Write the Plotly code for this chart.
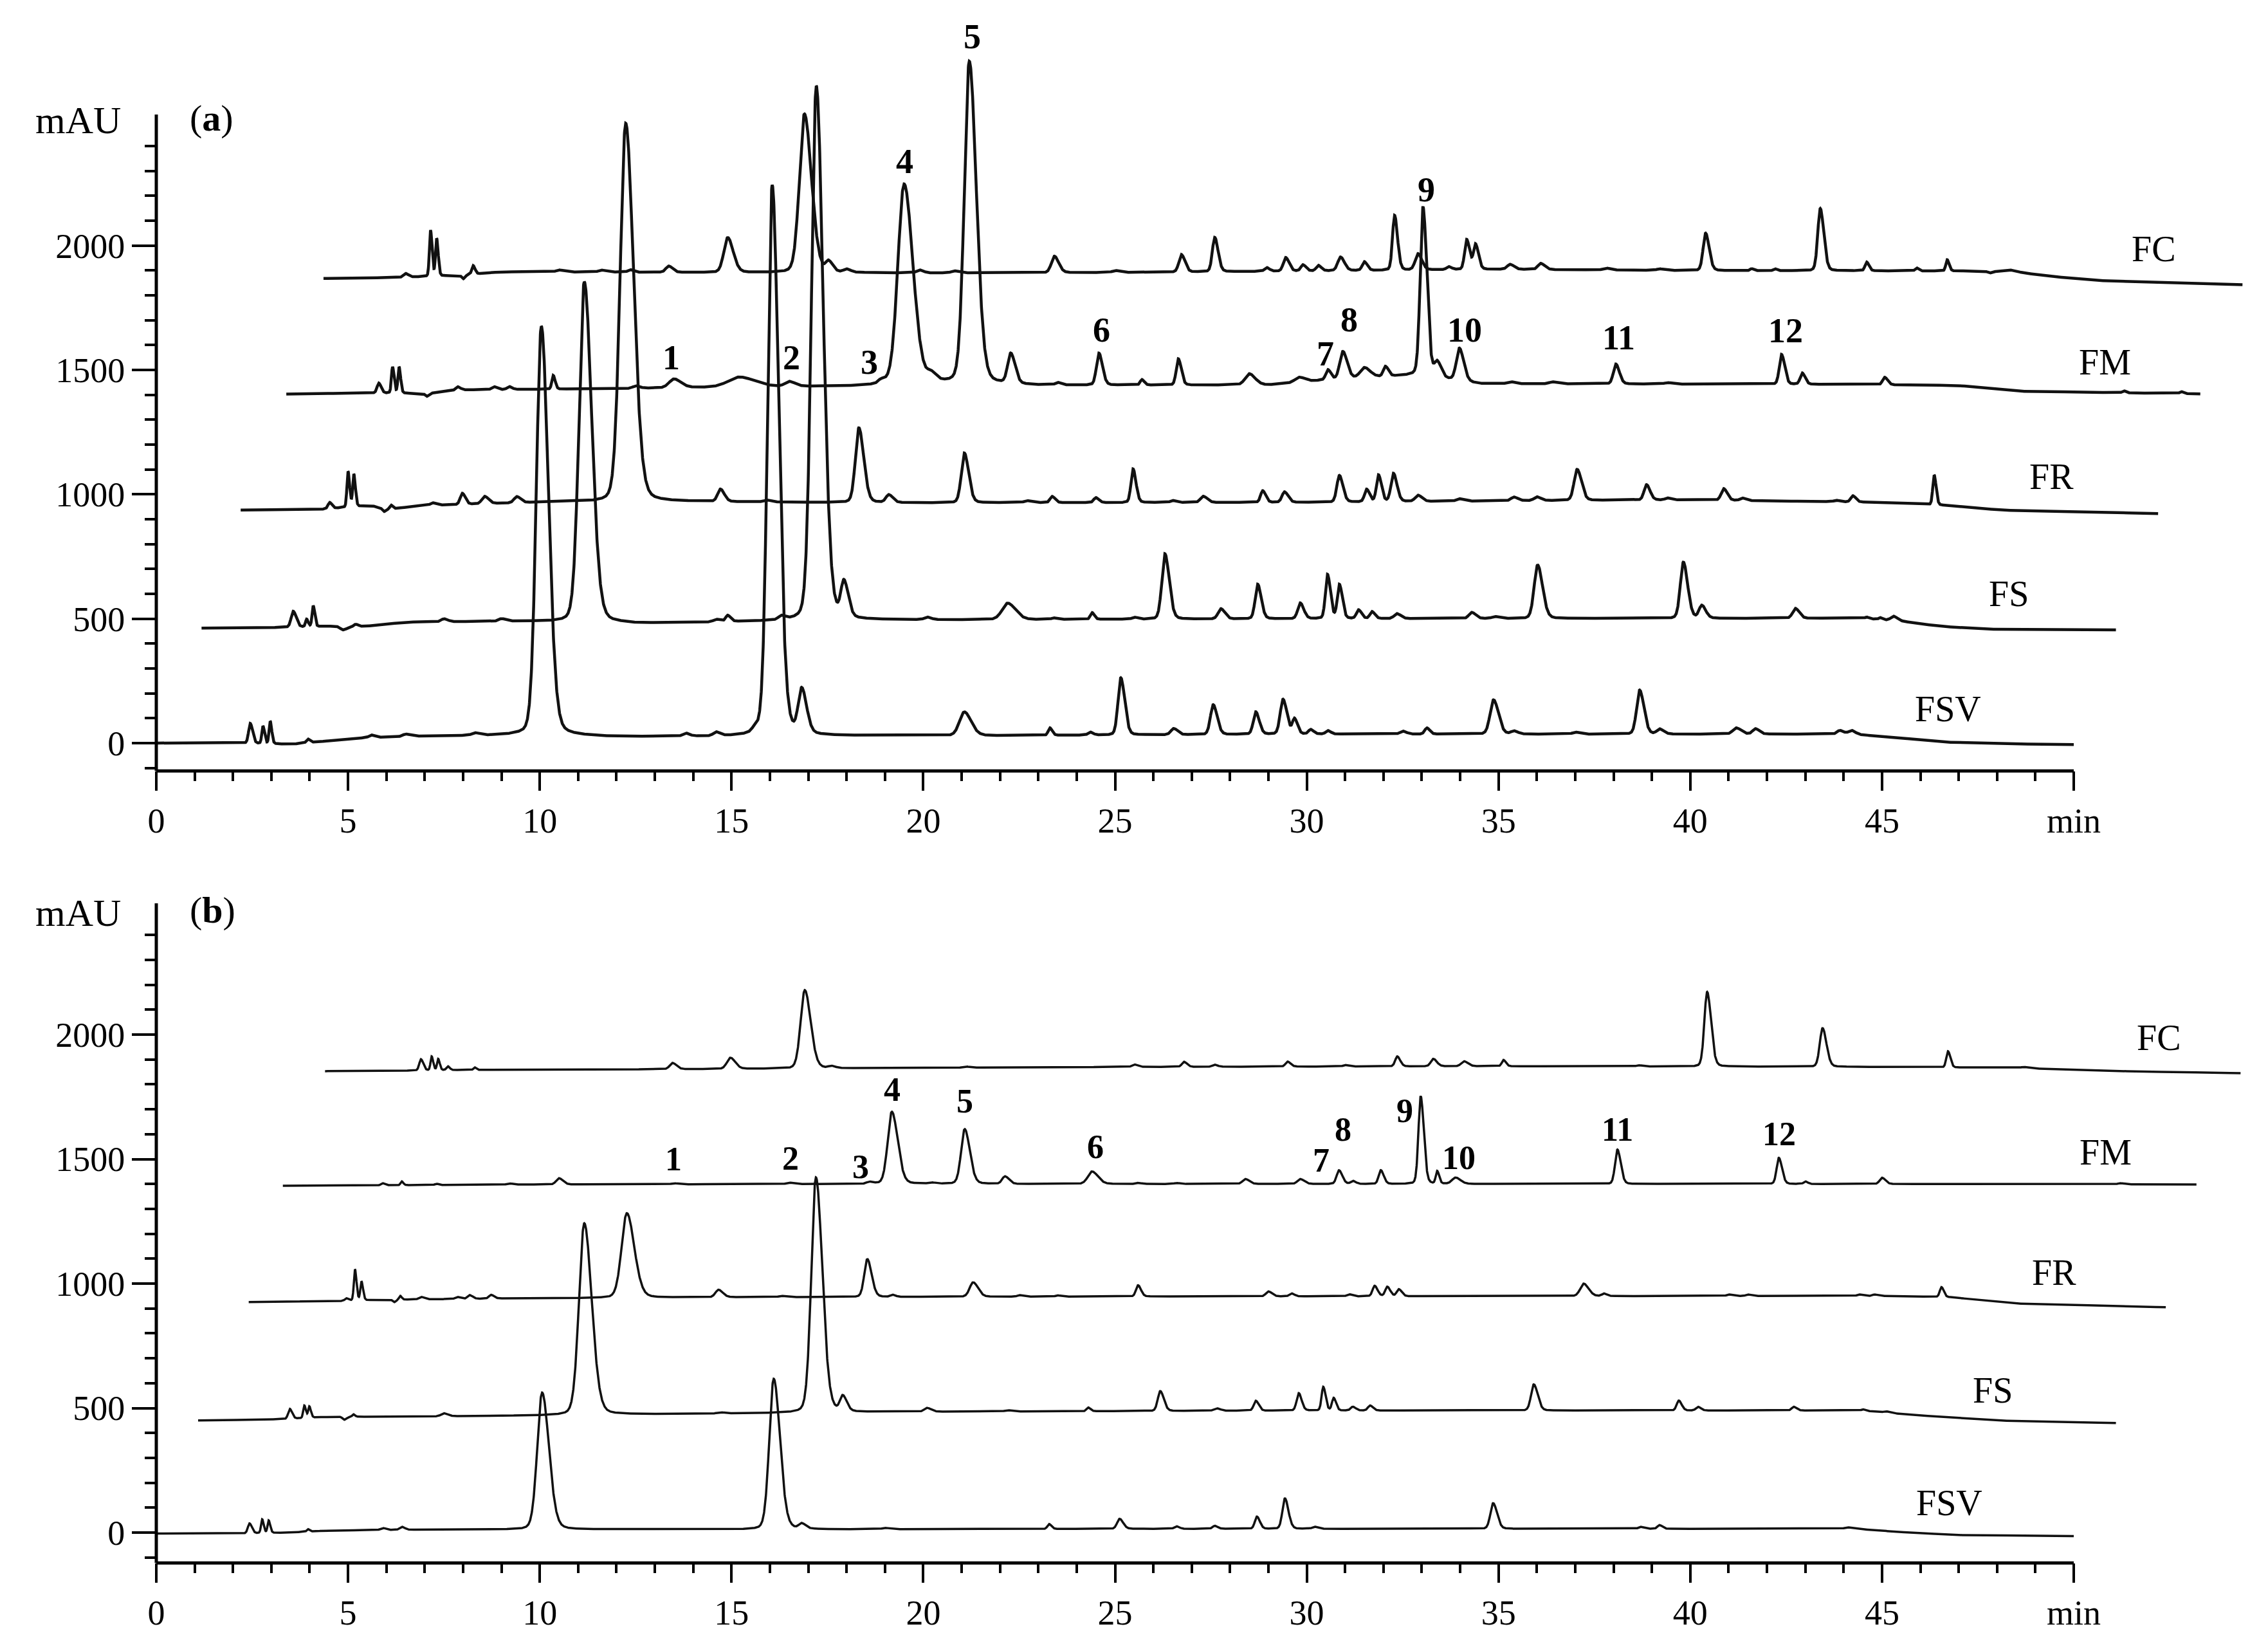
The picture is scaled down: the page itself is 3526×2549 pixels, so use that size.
import numpy as np
import plotly.graph_objects as go

# ---------------- DATA ----------------
# Each chromatogram: baseline knots (min, mAU) and peaks (retention min, height above baseline mAU, FWHM min)
# x positions are as displayed (traces are offset in the original figure)

# ---- Panel (a) ----
FSV_A_BASE = [(0, 0), (2.2, 0), (3.5, -5), (4.2, 5), (5.5, 22), (7, 28), (9.5, 32), (12, 25), (16, 28),
              (22, 30), (30, 36), (44.2, 36), (45.2, 25), (46.5, 5), (48, -3), (50, -6)]
FSV_A_PEAKS = [(2.45, 80, 0.12), (2.78, 70, 0.08), (2.97, 90, 0.08), (3.95, 15, 0.1), (5.6, 10, 0.15),
               (6.5, 10, 0.2), (8.3, 10, 0.2), (10.04, 1645, 0.36), (13.8, 12, 0.2), (14.6, 15, 0.2),
               (15.6, 15, 0.2), (16.06, 2215, 0.33), (16.83, 175, 0.25), (21.07, 95, 0.35), (23.3, 30, 0.12),
               (24.35, 12, 0.15), (25.15, 230, 0.2), (26.53, 25, 0.2), (27.56, 120, 0.2), (28.67, 90, 0.18),
               (29.38, 140, 0.2), (29.68, 60, 0.15), (30.1, 18, 0.15), (30.55, 14, 0.15), (32.5, 12, 0.2),
               (33.13, 25, 0.15), (34.87, 138, 0.25), (35.4, 12, 0.2), (37.0, 8, 0.2), (38.68, 177, 0.22),
               (39.2, 20, 0.2), (41.2, 25, 0.25), (41.7, 22, 0.2), (43.9, 15, 0.2), (44.2, 15, 0.2)]

FS_A_BASE = [(1.18, 462), (3.3, 465), (4.6, 470), (5.5, 470), (6.5, 486), (9.5, 490), (12.5, 480), (16, 490),
             (20, 495), (30, 500), (44.5, 502), (45.5, 490), (46.5, 470), (47.6, 458), (51.1, 455)]
FS_A_PEAKS = [(3.57, 64, 0.15), (3.92, 30, 0.08), (4.09, 84, 0.08), (4.87, -15, 0.2), (5.2, 8, 0.1),
              (7.5, 12, 0.2), (9.0, 10, 0.2), (11.16, 1370, 0.38), (14.6, 10, 0.2), (14.9, 25, 0.15),
              (16.3, 15, 0.2), (17.21, 2150, 0.35), (17.93, 140, 0.22), (20.1, 10, 0.2), (22.2, 66, 0.4),
              (23.4, 6, 0.15), (24.4, 27, 0.12), (25.5, 8, 0.15), (26.3, 263, 0.22), (27.76, 41, 0.2),
              (28.72, 139, 0.18), (29.83, 63, 0.18), (30.54, 177, 0.15), (30.85, 136, 0.15), (31.35, 35, 0.15),
              (31.7, 28, 0.15), (32.35, 20, 0.2), (34.3, 25, 0.2), (34.9, 8, 0.2), (36.02, 215, 0.25),
              (39.82, 226, 0.22), (40.3, 51, 0.2), (42.74, 40, 0.2), (44.6, 6, 0.1), (44.95, 8, 0.1),
              (45.3, 18, 0.2)]

FR_A_BASE = [(2.2, 937), (4.3, 940), (5.6, 955), (6.0, 940), (7, 955), (10, 968), (14, 970), (20, 966),
             (30, 968), (36, 975), (40, 978), (45, 968), (46.7, 955), (48.2, 936), (52.2, 923)]
FR_A_PEAKS = [(4.52, 25, 0.12), (5.0, 143, 0.08), (5.15, 130, 0.08), (5.93, -12, 0.1), (6.12, 15, 0.08),
              (7.2, 10, 0.15), (7.98, 45, 0.15), (8.56, 30, 0.2), (9.4, 25, 0.2), (12.24, 1523, 0.4),
              (14.71, 50, 0.2), (15.9, 8, 0.2), (18.32, 300, 0.25), (19.1, 31, 0.2), (21.07, 200, 0.22),
              (22.7, 8, 0.2), (23.36, 25, 0.15), (24.5, 20, 0.15), (25.47, 135, 0.15), (26.5, 8, 0.15),
              (27.3, 25, 0.2), (28.85, 47, 0.15), (29.42, 42, 0.18), (30.85, 107, 0.18), (31.56, 50, 0.15),
              (31.87, 107, 0.15), (32.26, 113, 0.18), (32.9, 25, 0.2), (33.97, 10, 0.2), (35.4, 15, 0.2),
              (36.0, 15, 0.2), (37.05, 125, 0.22), (38.86, 62, 0.18), (39.4, 8, 0.15), (40.87, 47, 0.18),
              (41.35, 10, 0.15), (43.8, 6, 0.15), (44.24, 25, 0.15), (46.36, 120, 0.1)]

FM_A_BASE = [(3.39, 1403), (5.5, 1408), (7, 1405), (8, 1420), (12, 1425), (14, 1430), (18, 1435),
             (20.5, 1445), (23, 1438), (29, 1440), (30.5, 1460), (32.8, 1480), (33.3, 1470), (34.5, 1445),
             (44, 1442), (47, 1438), (48.5, 1415), (53.3, 1404)]
FM_A_PEAKS = [(5.8, 40, 0.12), (6.16, 105, 0.08), (6.33, 105, 0.08), (7.05, -12, 0.1), (7.85, 15, 0.15),
              (8.8, 12, 0.15), (9.2, 12, 0.15), (10.35, 55, 0.1), (12.5, 10, 0.2), (13.5, 35, 0.35),
              (15.2, 40, 0.8), (16.5, 20, 0.3), (18.9, 15, 0.2), (19.5, 805, 0.45), (20.2, 30, 0.25),
              (21.2, 1295, 0.36), (22.28, 120, 0.22), (23.5, 10, 0.15), (24.58, 128, 0.18), (25.7, 22, 0.12),
              (26.65, 105, 0.15), (28.5, 45, 0.3), (29.8, 20, 0.3), (30.55, 40, 0.15), (30.94, 110, 0.22),
              (31.5, 40, 0.3), (32.05, 40, 0.15), (33.03, 680, 0.2), (33.4, 60, 0.2), (33.98, 130, 0.22),
              (35.3, 8, 0.2), (36.4, 8, 0.2), (38.06, 80, 0.18), (39.4, 6, 0.2), (42.38, 120, 0.16),
              (42.92, 45, 0.15), (45.07, 30, 0.15), (51.3, 8, 0.1), (52.8, 8, 0.1)]

FC_A_BASE = [(4.36, 1868), (6.3, 1872), (7.9, 1880), (9, 1895), (15, 1892), (20, 1890), (25, 1892),
             (30, 1898), (35, 1905), (40, 1900), (47.5, 1898), (48.9, 1885), (50.5, 1860), (54.4, 1843)]
FC_A_PEAKS = [(6.5, 15, 0.15), (7.15, 185, 0.08), (7.31, 150, 0.08), (8.0, -15, 0.1), (8.26, 35, 0.1),
              (10.5, 8, 0.2), (11.6, 8, 0.2), (12.35, 10, 0.15), (13.36, 25, 0.2), (14.9, 140, 0.28),
              (16.9, 638, 0.36), (17.53, 40, 0.2), (18.0, 12, 0.2), (19.9, 12, 0.2), (20.8, 8, 0.2),
              (23.42, 66, 0.22), (25.0, 8, 0.2), (26.73, 70, 0.18), (27.6, 138, 0.17), (28.95, 15, 0.15),
              (29.45, 55, 0.17), (29.9, 25, 0.15), (30.3, 22, 0.15), (30.88, 55, 0.2), (31.5, 35, 0.15),
              (32.29, 220, 0.15), (32.9, 65, 0.2), (33.7, 12, 0.15), (34.17, 120, 0.15), (34.4, 100, 0.15),
              (35.3, 20, 0.2), (36.1, 25, 0.2), (37.8, 8, 0.2), (39.2, 6, 0.2), (40.4, 150, 0.18),
              (41.6, 8, 0.1), (42.2, 8, 0.1), (43.39, 250, 0.18), (44.6, 35, 0.12), (45.9, 12, 0.1),
              (46.7, 45, 0.1), (47.8, -6, 0.1), (48.3, 12, 0.5)]

# ---- Panel (b) ----
FSV_B_BASE = [(0, -4), (2.2, -4), (3.5, 0), (4.5, 8), (7, 12), (15, 12), (25, 15), (35, 15), (44.3, 15),
              (45.5, 2), (47, -10), (50, -14)]
FSV_B_PEAKS = [(2.43, 40, 0.12), (2.76, 55, 0.08), (2.93, 50, 0.08), (3.95, 10, 0.08), (5.9, 8, 0.15),
               (6.4, 12, 0.15), (10.06, 550, 0.35), (16.1, 605, 0.32), (16.83, 20, 0.2), (19.0, 5, 0.2),
               (23.28, 20, 0.12), (25.12, 40, 0.18), (26.6, 10, 0.15), (27.6, 12, 0.15), (28.7, 49, 0.15),
               (29.43, 122, 0.18), (30.2, 8, 0.15), (34.86, 103, 0.2), (38.7, 8, 0.15), (39.2, 15, 0.15),
               (44.1, 6, 0.2)]

FS_B_BASE = [(1.09, 450), (3.3, 455), (4.5, 465), (6, 465), (10, 470), (15, 478), (20, 485), (30, 490),
             (44.5, 490), (46, 470), (48, 450), (51.1, 440)]
FS_B_PEAKS = [(3.48, 40, 0.12), (3.86, 50, 0.08), (3.99, 45, 0.08), (4.9, -12, 0.12), (5.14, 10, 0.08),
              (7.5, 12, 0.2), (11.16, 770, 0.38), (14.7, 5, 0.2), (17.2, 945, 0.33), (17.9, 60, 0.2),
              (20.1, 15, 0.2), (22.2, 5, 0.2), (24.3, 15, 0.12), (26.18, 80, 0.18), (27.65, 10, 0.2),
              (28.67, 40, 0.15), (29.79, 70, 0.15), (30.43, 95, 0.12), (30.7, 50, 0.12), (31.2, 15, 0.15),
              (31.65, 20, 0.15), (35.92, 105, 0.2), (39.7, 40, 0.15), (40.2, 15, 0.15), (42.7, 15, 0.15),
              (44.5, 5, 0.1), (45.1, 5, 0.15)]

FR_B_BASE = [(2.41, 926), (4.8, 930), (6, 935), (9, 940), (15, 945), (25, 948), (40, 950), (45.5, 950),
             (46.8, 945), (48.5, 920), (52.4, 905)]
FR_B_PEAKS = [(4.95, 10, 0.1), (5.18, 125, 0.08), (5.35, 75, 0.08), (6.2, -10, 0.1), (6.36, 15, 0.08),
              (6.9, 10, 0.15), (7.85, 8, 0.15), (8.17, 15, 0.15), (8.73, 15, 0.15), (12.27, 340, 0.38),
              (14.66, 30, 0.22), (16.3, 5, 0.2), (18.54, 152, 0.22), (19.2, 8, 0.15), (21.3, 58, 0.25),
              (22.5, 6, 0.15), (23.5, 5, 0.15), (25.6, 45, 0.15), (29.0, 20, 0.18), (29.6, 12, 0.15),
              (31.1, 8, 0.15), (31.77, 42, 0.15), (32.1, 38, 0.15), (32.4, 28, 0.15), (37.22, 50, 0.25),
              (37.75, 10, 0.15), (41.0, 6, 0.15), (41.5, 6, 0.15), (44.4, 6, 0.15), (44.8, 6, 0.15),
              (46.55, 40, 0.12)]

FM_B_BASE = [(3.3, 1393), (6, 1395), (10, 1398), (20, 1400), (30, 1400), (45, 1400), (53.2, 1398)]
FM_B_PEAKS = [(5.9, 8, 0.1), (6.4, 15, 0.08), (7.3, 5, 0.1), (9.2, 5, 0.15), (10.5, 25, 0.2), (13.5, 4, 0.2),
              (16.5, 6, 0.2), (18.6, 8, 0.2), (19.18, 290, 0.3), (20.2, 5, 0.2), (21.08, 220, 0.26),
              (22.13, 30, 0.2), (24.4, 50, 0.3), (25.6, 4, 0.15), (26.6, 4, 0.15), (28.4, 20, 0.2),
              (29.83, 20, 0.2), (30.84, 55, 0.17), (31.2, 12, 0.15), (31.93, 55, 0.15), (32.97, 352, 0.16),
              (33.4, 50, 0.1), (33.88, 25, 0.25), (38.1, 138, 0.17), (42.31, 105, 0.16), (43.0, 10, 0.12),
              (45.0, 25, 0.17), (51.2, 5, 0.15)]

FC_B_BASE = [(4.4, 1853), (6.5, 1855), (8, 1858), (15, 1862), (25, 1870), (35, 1873), (45, 1870),
             (48.5, 1866), (50.5, 1855), (54.35, 1845)]
FC_B_PEAKS = [(6.9, 45, 0.12), (7.18, 55, 0.08), (7.35, 45, 0.08), (7.6, 15, 0.1), (8.3, 10, 0.08),
              (13.46, 25, 0.2), (14.97, 45, 0.25), (16.91, 315, 0.3), (17.6, 8, 0.2), (21.1, 5, 0.2),
              (25.5, 10, 0.15), (26.8, 20, 0.15), (27.6, 8, 0.15), (29.5, 20, 0.15), (31.0, 6, 0.15),
              (32.36, 40, 0.15), (33.3, 30, 0.18), (34.1, 20, 0.2), (35.13, 25, 0.12), (38.65, 5, 0.15),
              (40.44, 300, 0.2), (43.45, 155, 0.2), (46.72, 65, 0.12), (48.7, 5, 0.2)]

# Sample names and label positions (min, mAU)
SAMPLES = ["FSV", "FS", "FR", "FM", "FC"]
SAMPLE_LABEL_A = [(46.72, 138), (48.30, 601), (49.42, 1070), (50.81, 1531), (52.09, 1987)]
SAMPLE_LABEL_B = [(46.75, 118), (47.88, 571), (49.49, 1044), (50.83, 1527), (52.22, 1988)]

# Peak number labels (min, mAU)
PEAK_NUMBERS = ["1", "2", "3", "4", "5", "6", "7", "8", "9", "10", "11", "12"]
PEAK_LABEL_A = [(13.42, 1549), (16.56, 1549), (18.60, 1531), (19.52, 2338), (21.27, 2840), (24.65, 1661),
                (30.48, 1565), (31.10, 1702), (33.12, 2225), (34.12, 1661), (38.13, 1630), (42.49, 1658)]
PEAK_LABEL_B = [(13.49, 1501), (16.54, 1502), (18.37, 1469), (19.18, 1778), (21.08, 1733), (24.48, 1548),
                (30.37, 1494), (30.94, 1620), (32.55, 1693), (33.97, 1505), (38.10, 1618), (42.31, 1601)]

X_TICKS = [0, 5, 10, 15, 20, 25, 30, 35, 40, 45, 50]
X_TICK_TEXT = ["0", "5", "10", "15", "20", "25", "30", "35", "40", "45", "min"]
Y_TICKS = [0, 500, 1000, 1500, 2000]
Y_TICK_TEXT = ["0", "500", "1000", "1500", "2000"]

# ---------------- LAYOUT CONSTANTS ----------------
W, H = 3526, 2549
FONT = "Liberation Serif"
X_LEFT_PX = 243.0
PX_PER_MIN = 59.62
X_RANGE = [0, 54.9]
X_AXIS_END = 50
Y_AXIS_TOP = 2527

PANELS = {
    "a": dict(zero_px=1155.0, px_per_mau=0.3866, yrange=[-112, 2900]),
    "b": dict(zero_px=2382.0, px_per_mau=0.3870, yrange=[-122, 2900]),
}


def x_paper(t):
    return (X_LEFT_PX + t * PX_PER_MIN) / W


def y_paper(panel, v):
    p = PANELS[panel]
    return 1 - (p["zero_px"] - v * p["px_per_mau"]) / H


def build(base, peaks, step=0.005):
    bt = np.array([b[0] for b in base], dtype=float)
    bv = np.array([b[1] for b in base], dtype=float)
    t = np.arange(bt[0], bt[-1] + step / 2, step)
    y = np.interp(t, bt, bv)
    for c, h, w in peaks:
        d = t - c
        f = np.where(d < 0, 0.85, 1.2)
        s = w * f / 2.355
        g = w * f / 2.0
        y = y + h * (0.85 * np.exp(-0.5 * (d / s) ** 2) + 0.15 / (1 + (d / g) ** 2))
    return t, y


fig = go.Figure()

series_a = [(FSV_A_BASE, FSV_A_PEAKS), (FS_A_BASE, FS_A_PEAKS), (FR_A_BASE, FR_A_PEAKS),
            (FM_A_BASE, FM_A_PEAKS), (FC_A_BASE, FC_A_PEAKS)]
series_b = [(FSV_B_BASE, FSV_B_PEAKS), (FS_B_BASE, FS_B_PEAKS), (FR_B_BASE, FR_B_PEAKS),
            (FM_B_BASE, FM_B_PEAKS), (FC_B_BASE, FC_B_PEAKS)]

for name, (b, p) in zip(SAMPLES, series_a):
    t, y = build(b, p)
    fig.add_trace(go.Scatter(x=t, y=y, mode="lines", name=name, xaxis="x", yaxis="y",
                             line=dict(color="#111111", width=4.5), showlegend=False))
for name, (b, p) in zip(SAMPLES, series_b):
    t, y = build(b, p)
    fig.add_trace(go.Scatter(x=t, y=y, mode="lines", name=name, xaxis="x2", yaxis="y2",
                             line=dict(color="#111111", width=3.5), showlegend=False))

xdom = [x_paper(X_RANGE[0]), x_paper(X_RANGE[1])]


def ydom(panel):
    r = PANELS[panel]["yrange"]
    return [y_paper(panel, r[0]), y_paper(panel, r[1])]


x_minor = [i for i in range(1, 50) if i % 5]
y_minor = [v for v in range(-100, 2500, 100) if v % 500]

xaxis_common = dict(range=X_RANGE, domain=xdom, showline=False, showgrid=False, zeroline=False,
                    automargin=False,
                    tickmode="array", tickvals=X_TICKS, ticktext=X_TICK_TEXT, ticks="outside",
                    ticklen=30, tickwidth=4, tickcolor="black",
                    tickfont=dict(family=FONT, size=54, color="black"),
                    minor=dict(tickvals=x_minor, ticks="outside", ticklen=15, tickwidth=4,
                               tickcolor="black", showgrid=False))
yaxis_common = dict(showline=False, showgrid=False, zeroline=False, tickmode="array", automargin=False,
                    tickvals=Y_TICKS, ticktext=Y_TICK_TEXT, ticks="outside", ticklen=37, tickwidth=4,
                    tickcolor="black", tickfont=dict(family=FONT, size=54, color="black"),
                    minor=dict(tickvals=y_minor, ticks="outside", ticklen=17, tickwidth=4,
                               tickcolor="black", showgrid=False))

fig.update_layout(
    width=W, height=H, autosize=False,
    margin=dict(l=0, r=0, t=0, b=0, pad=0, autoexpand=False),
    paper_bgcolor="white", plot_bgcolor="white",
    showlegend=False,
    xaxis=dict(anchor="y", **xaxis_common),
    xaxis2=dict(anchor="y2", **xaxis_common),
    yaxis=dict(anchor="x", domain=ydom("a"), range=PANELS["a"]["yrange"], **yaxis_common),
    yaxis2=dict(anchor="x2", domain=ydom("b"), range=PANELS["b"]["yrange"], **yaxis_common),
)

# axis lines (paper coords derived from data scales)
shapes = []
for panel in ["a", "b"]:
    ybot = PANELS[panel]["yrange"][0]
    shapes.append(dict(type="line", xref="paper", yref="paper",
                       x0=x_paper(0), x1=x_paper(0), y0=y_paper(panel, ybot), y1=y_paper(panel, Y_AXIS_TOP),
                       line=dict(color="black", width=5)))
    shapes.append(dict(type="line", xref="paper", yref="paper",
                       x0=x_paper(0), x1=x_paper(X_AXIS_END), y0=y_paper(panel, ybot), y1=y_paper(panel, ybot),
                       line=dict(color="black", width=5)))
fig.update_layout(shapes=shapes)

ann = []
for (xr, yr, labels) in [("x", "y", PEAK_LABEL_A), ("x2", "y2", PEAK_LABEL_B)]:
    for txt, (px, py) in zip(PEAK_NUMBERS, labels):
        ann.append(dict(x=px, y=py, xref=xr, yref=yr, text="<b>%s</b>" % txt, showarrow=False,
                        xanchor="center", yanchor="middle",
                        font=dict(family=FONT, size=54 if xr == "x" else 52, color="black")))
for (xr, yr, labels) in [("x", "y", SAMPLE_LABEL_A), ("x2", "y2", SAMPLE_LABEL_B)]:
    for txt, (px, py) in zip(SAMPLES, labels):
        ann.append(dict(x=px, y=py, xref=xr, yref=yr, text=txt, showarrow=False,
                        xanchor="center", yanchor="middle",
                        font=dict(family=FONT, size=56, color="black")))
for panel, letter, xr, yr, pos in [("a", "a", "x", "y", (1.44, 2514)), ("b", "b", "x2", "y2", (1.46, 2499))]:
    ann.append(dict(x=pos[0], y=pos[1], xref=xr, yref=yr, text="(<b>%s</b>)" % letter, showarrow=False,
                    xanchor="center", yanchor="middle", font=dict(family=FONT, size=58, color="black")))
    ann.append(dict(x=121 / W, y=y_paper(panel, pos[1] - 10), xref="paper", yref="paper", text="mAU",
                    showarrow=False, xanchor="center", yanchor="middle",
                    font=dict(family=FONT, size=60, color="black")))
fig.update_layout(annotations=ann)

fig.write_html("out.html", config={"displayModeBar": False},
               post_script="document.body.style.margin='0px';")
